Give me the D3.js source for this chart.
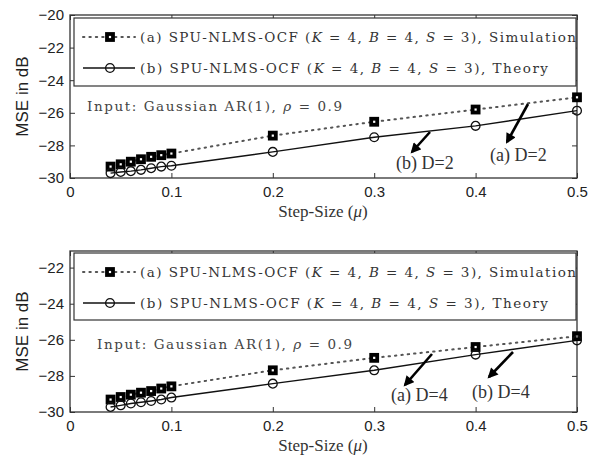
<!DOCTYPE html>
<html>
<head>
<meta charset="utf-8">
<script src="https://cdn.jsdelivr.net/npm/d3@7"></script>
<style>
body { margin: 0; background: #fff; }
svg { display: block; }
.tick text { font-family: "Liberation Sans", Arial, sans-serif; fill: #222; }
</style>
</head>
<body>
<div id="chart"></div>
<script>
// step sizes shared by both panels
var mu = [0.04, 0.05, 0.06, 0.07, 0.08, 0.09, 0.1, 0.2, 0.3, 0.4, 0.5];

// panel 1 : D = 2
var simD2 = [-29.3, -29.16, -29.0, -28.85, -28.7, -28.6, -28.5, -27.4, -26.55, -25.8, -25.05];
var theoryD2 = [-29.7, -29.63, -29.58, -29.5, -29.4, -29.3, -29.25, -28.4, -27.5, -26.8, -25.87];

// panel 2 : D = 4
var simD4 = [-29.31, -29.17, -29.04, -28.93, -28.84, -28.7, -28.58, -27.69, -27.0, -26.4, -25.8];
var theoryD4 = [-29.72, -29.63, -29.53, -29.46, -29.39, -29.31, -29.2, -28.43, -27.69, -26.82, -26.03];

var xTicks = [0, 0.1, 0.2, 0.3, 0.4, 0.5];
var yTicksTop = [-30, -28, -26, -24, -22, -20];
var yTicksBottom = [-30, -28, -26, -24, -22];

var W = 595, H = 458;
var svg = d3.select("#chart").append("svg").attr("width", W).attr("height", H);

var SERIF = "'DejaVu Serif', 'Liberation Serif', serif";
var AXIS_COLOR = "#333";

function panel(params){
	var g = svg.append("g");
	var x = d3.scaleLinear().domain([0, 0.5]).range([70, 577]);
	var y = d3.scaleLinear().domain(params.yDomain).range([params.bottom, params.top]);

	// MATLAB style box with inward ticks on all four sides
	var bottomAxis = d3.axisBottom(x).tickValues(xTicks).tickSize(-5).tickPadding(8)
		.tickFormat(function(v){ return v === 0 ? "0" : d3.format(".1f")(v); });
	var leftAxis = d3.axisLeft(y).tickValues(params.yTicks).tickSize(-5).tickPadding(6)
		.tickFormat(function(v){ return d3.format("d")(v).replace("-", "\u2212"); });

	g.append("g").attr("transform", "translate(0," + params.bottom + ")").call(bottomAxis);
	g.append("g").attr("transform", "translate(70,0)").call(leftAxis);
	g.append("g").attr("transform", "translate(0," + params.top + ")")
		.call(d3.axisTop(x).tickValues(xTicks).tickSize(-5).tickFormat(""));
	g.append("g").attr("transform", "translate(577,0)")
		.call(d3.axisRight(y).tickValues(params.yTicks).tickSize(-5).tickFormat(""));
	g.selectAll(".domain").remove();
	g.selectAll(".tick line").attr("stroke", AXIS_COLOR);
	g.selectAll(".tick text").attr("font-size", 15);

	g.append("rect")
		.attr("x", 70).attr("y", params.top)
		.attr("width", 507).attr("height", params.bottom - params.top)
		.attr("fill", "none").attr("stroke", AXIS_COLOR).attr("stroke-width", 1.3);

	// legend box
	var lg = params.legend;
	g.append("rect")
		.attr("x", 74).attr("y", lg.top)
		.attr("width", 502).attr("height", lg.bottom - lg.top)
		.attr("fill", "#fff").attr("stroke", AXIS_COLOR).attr("stroke-width", 1.2);

	var line = d3.line().x(function(d){ return x(d[0]); }).y(function(d){ return y(d[1]); });
	var simPts = mu.map(function(m, i){ return [m, params.sim[i]]; });
	var thPts = mu.map(function(m, i){ return [m, params.theory[i]]; });

	g.append("path").datum(simPts).attr("d", line)
		.attr("fill", "none").attr("stroke", "#555").attr("stroke-width", 2)
		.attr("stroke-dasharray", "1.4,5").attr("stroke-linecap", "round");
	g.append("path").datum(thPts).attr("d", line)
		.attr("fill", "none").attr("stroke", "#111").attr("stroke-width", 1.4);

	function square(sel){
		sel.append("rect").attr("width", 6).attr("height", 6).attr("x", -3).attr("y", -3)
			.attr("fill", "#fff").attr("stroke", "#000").attr("stroke-width", 3.8);
	}
	function circle(sel){
		sel.append("circle").attr("r", 4.4)
			.attr("fill", "none").attr("stroke", "#111").attr("stroke-width", 1.3);
	}

	g.selectAll(".sq").data(simPts).enter().append("g")
		.attr("transform", function(d){ return "translate(" + x(d[0]) + "," + y(d[1]) + ")"; })
		.call(square);
	g.selectAll(".ci").data(thPts).enter().append("g")
		.attr("transform", function(d){ return "translate(" + x(d[0]) + "," + y(d[1]) + ")"; })
		.call(circle);

	// legend entries
	g.append("line").attr("x1", 83).attr("x2", 135).attr("y1", lg.row1).attr("y2", lg.row1)
		.attr("stroke", "#555").attr("stroke-width", 2)
		.attr("stroke-dasharray", "1.4,5").attr("stroke-linecap", "round");
	g.append("g").attr("transform", "translate(110," + lg.row1 + ")").call(square);
	g.append("line").attr("x1", 83).attr("x2", 135).attr("y1", lg.row2).attr("y2", lg.row2)
		.attr("stroke", "#111").attr("stroke-width", 1.4);
	g.append("g").attr("transform", "translate(110," + lg.row2 + ")").call(circle);

	function legendText(yy, label, tail, len){
		var t = g.append("text").attr("x", 140).attr("y", yy + 5)
			.attr("font-family", SERIF).attr("font-size", 13.5).attr("fill", "#333")
			.attr("textLength", len).attr("lengthAdjust", "spacing");
		t.append("tspan").text(label + " SPU-NLMS-OCF (");
		t.append("tspan").attr("font-style", "italic").text("K");
		t.append("tspan").text(" = 4, ");
		t.append("tspan").attr("font-style", "italic").text("B");
		t.append("tspan").text(" = 4, ");
		t.append("tspan").attr("font-style", "italic").text("S");
		t.append("tspan").text(" = 3), " + tail);
	}
	legendText(lg.row1, "(a)", "Simulation", 436);
	legendText(lg.row2, "(b)", "Theory", 408);

	// input annotation
	var it = g.append("text").attr("x", params.input[0]).attr("y", params.input[1] + 5)
		.attr("font-family", SERIF).attr("font-size", 13.5).attr("fill", "#444")
		.attr("textLength", 255).attr("lengthAdjust", "spacing");
	it.append("tspan").text("Input: Gaussian AR(1), ");
	it.append("tspan").attr("font-style", "italic").text("\u03C1");
	it.append("tspan").text(" = 0.9");

	// arrows with labels
	params.notes.forEach(function(n){
		g.append("line").attr("x1", n.from[0]).attr("y1", n.from[1])
			.attr("x2", n.to[0]).attr("y2", n.to[1])
			.attr("stroke", "#000").attr("stroke-width", 2.6)
			.attr("marker-end", "url(#head)");
		g.append("text").attr("x", n.text[0]).attr("y", n.text[1])
			.attr("font-family", "'Liberation Serif', 'DejaVu Serif', serif")
			.attr("font-size", 18).attr("fill", "#333").text(n.label);
	});

	// axis titles
	var xt = g.append("text").attr("x", 323).attr("y", params.bottom + 39)
		.attr("text-anchor", "middle").attr("font-family", "'Liberation Serif', serif")
		.attr("font-size", 17).attr("fill", "#333");
	xt.append("tspan").text("Step-Size (");
	xt.append("tspan").attr("font-style", "italic").text("\u03BC");
	xt.append("tspan").text(")");
	g.append("text")
		.attr("transform", "translate(28," + ((params.top + params.bottom) / 2) + ") rotate(-90)")
		.attr("text-anchor", "middle").attr("font-family", "'Liberation Sans', Arial, sans-serif")
		.attr("font-size", 17).attr("fill", "#222").text("MSE in dB");
}

svg.append("defs").append("marker").attr("id", "head")
	.attr("viewBox", "0 0 10 10").attr("refX", 8).attr("refY", 5)
	.attr("markerWidth", 4.4).attr("markerHeight", 4).attr("orient", "auto")
	.append("path").attr("d", "M0,0 L10,5 L0,10 z").attr("fill", "#000");

panel({
	top: 15, bottom: 178, yDomain: [-30, -20], yTicks: yTicksTop,
	sim: simD2, theory: theoryD2,
	legend: {top: 18, bottom: 86, row1: 37, row2: 68},
	input: [87, 106],
	notes: [
		{label: "(b) D=2", from: [430, 132], to: [412, 152], text: [396, 169]},
		{label: "(a) D=2", from: [528, 104], to: [507, 142], text: [490, 161]}
	]
});

panel({
	top: 251, bottom: 412, yDomain: [-30, -21.08], yTicks: yTicksBottom,
	sim: simD4, theory: theoryD4,
	legend: {top: 253, bottom: 320, row1: 272, row2: 303},
	input: [97, 344],
	notes: [
		{label: "(a) D=4", from: [432, 354], to: [405, 385], text: [391, 401]},
		{label: "(b) D=4", from: [513, 352], to: [489, 377], text: [472, 398]}
	]
});
</script>
</body>
</html>
